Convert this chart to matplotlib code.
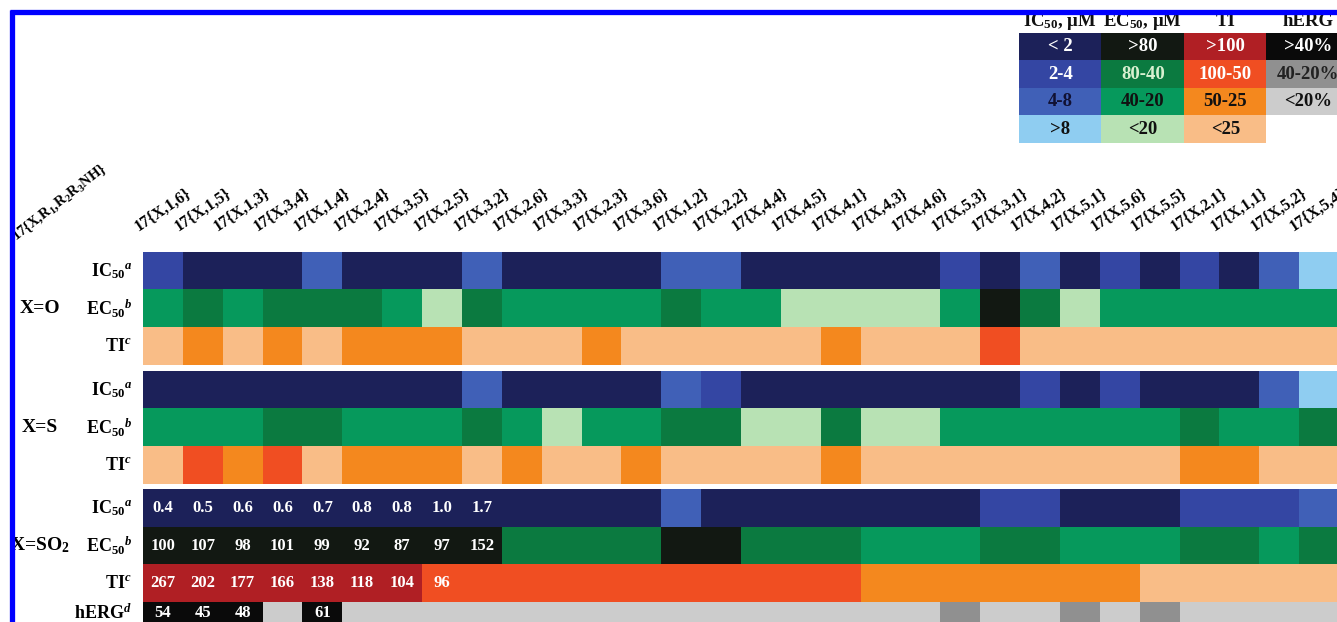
import numpy as np
import matplotlib
matplotlib.use('Agg')
import matplotlib.pyplot as plt
import matplotlib.transforms as mtransforms
from matplotlib.colors import ListedColormap
from matplotlib.lines import Line2D

plt.rcParams['font.family'] = ['Liberation Serif', 'DejaVu Serif']
plt.rcParams['font.weight'] = 'bold'
plt.rcParams['mathtext.fontset'] = 'custom'
plt.rcParams['mathtext.rm'] = 'Liberation Serif:bold'
plt.rcParams['mathtext.it'] = 'Liberation Serif:bold:italic'
plt.rcParams['mathtext.bf'] = 'Liberation Serif:bold'

# ---------------- data ----------------
compounds = ['1,6', '1,5', '1,3', '3,4', '1,4', '2,4', '3,5', '2,5', '3,2', '2,6',
             '3,3', '2,3', '3,6', '1,2', '2,2', '4,4', '4,5', '4,1', '4,3', '4,6',
             '5,3', '3,1', '4,2', '5,1', '5,6', '5,5', '2,1', '1,1', '5,2', '5,4']
col_labels = ['17{X,%s}' % c for c in compounds]
corner_label = r'17{X,R$_1$,R$_2$R$_3$NH}'

# category levels (index into the legend classes)
ic50_levels = ['< 2', '2-4', '4-8', '>8']
ec50_levels = ['>80', '80-40', '40-20', '<20']
ti_levels = ['>100', '100-50', '50-25', '<25']
herg_levels = ['>40%', '40-20%', '<20%']

ic50_O = [1, 0, 0, 0, 2, 0, 0, 0, 2, 0, 0, 0, 0, 2, 2, 0, 0, 0, 0, 0, 1, 0, 2, 0, 1, 0, 1, 0, 2, 3]
ec50_O = [2, 1, 2, 1, 1, 1, 2, 3, 1, 2, 2, 2, 2, 1, 2, 2, 3, 3, 3, 3, 2, 0, 1, 3, 2, 2, 2, 2, 2, 2]
ti_O = [3, 2, 3, 2, 3, 2, 2, 2, 3, 3, 3, 2, 3, 3, 3, 3, 3, 2, 3, 3, 3, 1, 3, 3, 3, 3, 3, 3, 3, 3]

ic50_S = [0, 0, 0, 0, 0, 0, 0, 0, 2, 0, 0, 0, 0, 2, 1, 0, 0, 0, 0, 0, 0, 0, 1, 0, 1, 0, 0, 0, 2, 3]
ec50_S = [2, 2, 2, 1, 1, 2, 2, 2, 1, 2, 3, 2, 2, 1, 1, 3, 3, 1, 3, 3, 2, 2, 2, 2, 2, 2, 1, 2, 2, 1]
ti_S = [3, 1, 2, 1, 3, 2, 2, 2, 3, 2, 3, 3, 2, 3, 3, 3, 3, 2, 3, 3, 3, 3, 3, 3, 3, 3, 2, 2, 3, 3]

ic50_SO2 = [0, 0, 0, 0, 0, 0, 0, 0, 0, 0, 0, 0, 0, 2, 0, 0, 0, 0, 0, 0, 0, 1, 1, 0, 0, 0, 1, 1, 1, 2]
ec50_SO2 = [0, 0, 0, 0, 0, 0, 0, 0, 0, 1, 1, 1, 1, 0, 0, 1, 1, 1, 2, 2, 2, 1, 1, 2, 2, 2, 1, 1, 2, 1]
ti_SO2 = [0, 0, 0, 0, 0, 0, 0, 1, 1, 1, 1, 1, 1, 1, 1, 1, 1, 1, 2, 2, 2, 2, 2, 2, 2, 3, 3, 3, 3, 3]
herg_SO2 = [0, 0, 0, 2, 0, 2, 2, 2, 2, 2, 2, 2, 2, 2, 2, 2, 2, 2, 2, 2, 1, 2, 2, 1, 2, 1, 2, 2, 2, 2]

# values printed for the X=SO2 leads
ic50_vals = ['0.4', '0.5', '0.6', '0.6', '0.7', '0.8', '0.8', '1.0', '1.7']
ec50_vals = ['100', '107', '98', '101', '99', '92', '87', '97', '152']
ti_vals = ['267', '202', '177', '166', '138', '118', '104', '96']
herg_vals = ['54', '45', '48', '', '61']

# ---------------- styles ----------------
ic50_colors = ['#1c2159', '#3446a3', '#4060b7', '#8fcdf1']
ec50_colors = ['#121812', '#0b7a40', '#06995c', '#b8e2b4']
ti_colors = ['#b01f24', '#f04e22', '#f4881e', '#f9bd87']
herg_colors = ['#0a0a0a', '#909090', '#cccccc']
all_colors = ic50_colors + ec50_colors + ti_colors + herg_colors
cmap = ListedColormap(all_colors)
OFF = {'ic50': 0, 'ec50': 4, 'ti': 8, 'herg': 12}

legend_text_colors = [
    ['white', 'white', '#111133', '#111111'],
    ['white', '#d8f0d0', '#111111', '#111111'],
    ['white', 'white', '#111111', '#111111'],
    ['white', '#222222', '#111111'],
]

W, H = 1337, 622
fig = plt.figure(figsize=(W / 100, H / 100), dpi=100)


def px_axes(x0, y0, x1, y1):
    return fig.add_axes([x0 / W, 1 - y1 / H, (x1 - x0) / W, (y1 - y0) / H])


cw = 39.85
rh = 37.7
hx0 = 143
hx1 = hx0 + len(compounds) * cw

blocks = [
    ('X=O', [('ic50', ic50_O), ('ec50', ec50_O), ('ti', ti_O)], 252),
    ('X=S', [('ic50', ic50_S), ('ec50', ec50_S), ('ti', ti_S)], 371),
    ('X=SO$_2$', [('ic50', ic50_SO2), ('ec50', ec50_SO2), ('ti', ti_SO2), ('herg', herg_SO2)], 489),
]
row_names = {'ic50': r'IC$_{50}{}^{a}$', 'ec50': r'EC$_{50}{}^{b}$',
             'ti': r'TI${}^{c}$', 'herg': r'hERG${}^{d}$'}
group_left = {'X=O': 20, 'X=S': 22, 'X=SO$_2$': 10}

axes = []
for name, rows, top in blocks:
    nrow = len(rows)
    ax = px_axes(hx0, top, hx1, top + nrow * rh)
    codes = np.array([np.array(v) + OFF[k] for k, v in rows])
    ax.imshow(codes, cmap=cmap, vmin=-0.5, vmax=len(all_colors) - 0.5,
              aspect='auto', interpolation='nearest')
    ax.axis('off')
    for r, (k, v) in enumerate(rows):
        dy = -0.2 if k == 'herg' else 0
        ax.text(-0.5 - 11 / cw, r + dy, row_names[k], ha='right', va='center',
                fontsize=13, clip_on=False)
    ax.text(-0.5 - (hx0 - group_left[name]) / cw, 1, name, ha='left', va='center',
            fontsize=14, clip_on=False)
    axes.append(ax)

# values in SO2 block
ax3 = axes[2]
for r, vals in enumerate([ic50_vals, ec50_vals, ti_vals, herg_vals]):
    dy = -0.2 if r == 3 else 0
    for c, t in enumerate(vals):
        if t:
            ax3.text(c, r + dy, t, ha='center', va='center', color='white',
                     fontsize=12)

# column labels
ax1 = axes[0]
btr = mtransforms.blended_transform_factory(ax1.transData, ax1.transAxes)
ylab = 1 + (252 - 231) / (3 * rh)
for c, lab in enumerate(col_labels):
    ax1.text(c - 0.62, ylab, lab, transform=btr,
             rotation=34, rotation_mode='anchor', ha='left', va='baseline',
             fontsize=11.5, clip_on=False)
ax1.text(-0.5 - (hx0 - 16) / cw, 1 + (252 - 241) / (3 * rh), corner_label,
         transform=btr, rotation=38, rotation_mode='anchor', ha='left', va='baseline',
         fontsize=10.5, clip_on=False)

# legend table
lw_ = 82.5
lh = 27.5
axl = px_axes(1019, 33, 1019 + 4 * lw_, 33 + 4 * lh)
leg = np.full((4, 4), np.nan)
for j, (k, levs) in enumerate([('ic50', ic50_levels), ('ec50', ec50_levels),
                                ('ti', ti_levels), ('herg', herg_levels)]):
    for i in range(len(levs)):
        leg[i, j] = OFF[k] + i
axl.imshow(np.ma.masked_invalid(leg), cmap=cmap, vmin=-0.5, vmax=len(all_colors) - 0.5,
           aspect='auto', interpolation='nearest')
axl.axis('off')
for j, levs in enumerate([ic50_levels, ec50_levels, ti_levels, herg_levels]):
    for i, t in enumerate(levs):
        axl.text(j, i, t, ha='center', va='center', fontsize=13.5,
                 color=legend_text_colors[j][i], clip_on=False)
headers = ['IC$_{50}$, μM', 'EC$_{50}$, μM', 'TI', 'hERG']
for j, t in enumerate(headers):
    axl.text(j, -0.5 - 7 / lh, t, ha='center', va='baseline', fontsize=13.5,
             color='#111111', clip_on=False)

# blue frame
fig.add_artist(Line2D([10 / W, 1], [1 - 12 / H, 1 - 12 / H], color='#0000ff', lw=3.8,
                      transform=fig.transFigure, zorder=50, solid_capstyle='butt'))
fig.add_artist(Line2D([12 / W, 12 / W], [1 - 10 / H, 0], color='#0000ff', lw=3.8,
                      transform=fig.transFigure, zorder=50, solid_capstyle='butt'))

fig.savefig('out.png', dpi=100, facecolor='white')
